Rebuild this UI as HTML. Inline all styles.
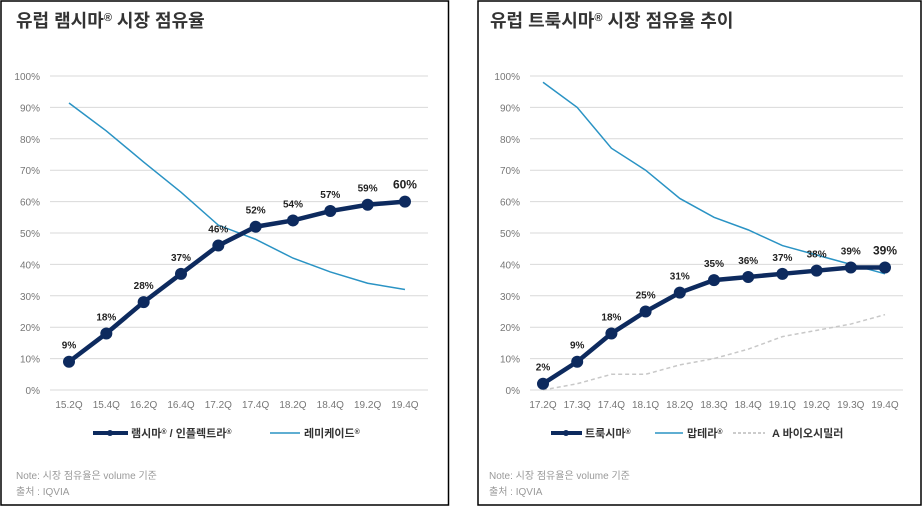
<!DOCTYPE html>
<html><head><meta charset="utf-8"><style>
body{margin:0;background:#fff;width:923px;height:507px;overflow:hidden;font-family:"Liberation Sans","Noto Sans CJK KR",sans-serif}
svg text{font-family:"Liberation Sans","Noto Sans CJK KR",sans-serif}
</style></head><body>
<svg id="s" width="923" height="507">
<rect x="1" y="1" width="447.5" height="504" fill="none" stroke="#000" stroke-width="1.5"/>
<rect x="478" y="1" width="443" height="504" fill="none" stroke="#000" stroke-width="1.5"/>
<text x="16" y="27" font-size="18" font-weight="bold" fill="#333">유럽 램시마<tspan font-size="11" dy="-6">®</tspan><tspan dy="6"> 시장 점유율</tspan></text>
<text x="490" y="27" font-size="18" font-weight="bold" fill="#333">유럽 트룩시마<tspan font-size="11" dy="-6">®</tspan><tspan dy="6"> 시장 점유율 추이</tspan></text>
<g id="L"></g><g id="R"></g>
<g>
<line x1="93" y1="433" x2="128" y2="433" stroke="#0d2a5e" stroke-width="4"/><circle cx="110" cy="433" r="3" fill="#0d2a5e"/>
<text x="131" y="437" font-size="11" font-weight="bold" fill="#333">램시마<tspan font-size="7" dy="-3">®</tspan><tspan dy="3"> / 인플렉트라</tspan><tspan font-size="7" dy="-3">®</tspan></text>
<line x1="270" y1="433" x2="300" y2="433" stroke="#2a93c4" stroke-width="1.5"/>
<text x="304" y="437" font-size="11" font-weight="bold" fill="#333">레미케이드<tspan font-size="7" dy="-3">®</tspan></text></g>
<g>
<line x1="551" y1="433" x2="582" y2="433" stroke="#0d2a5e" stroke-width="4"/><circle cx="566" cy="433" r="3" fill="#0d2a5e"/>
<text x="585" y="437" font-size="11" font-weight="bold" fill="#333">트룩시마<tspan font-size="7" dy="-3">®</tspan></text>
<line x1="655" y1="433" x2="683" y2="433" stroke="#2a93c4" stroke-width="1.5"/>
<text x="687" y="437" font-size="11" font-weight="bold" fill="#333">맙테라<tspan font-size="7" dy="-3">®</tspan></text>
<line x1="733" y1="433" x2="765" y2="433" stroke="#bbb" stroke-width="1.5" stroke-dasharray="3,2"/>
<text x="772" y="437" font-size="11" font-weight="bold" fill="#333">A 바이오시밀러</text></g>
<text x="16" y="479" font-size="10" fill="#999">Note: 시장 점유율은 volume 기준</text>
<text x="16" y="495" font-size="10" fill="#999">출처 : IQVIA</text>
<text x="489" y="479" font-size="10" fill="#999">Note: 시장 점유율은 volume 기준</text>
<text x="489" y="495" font-size="10" fill="#999">출처 : IQVIA</text>
</svg>
<script>
const leftCats=["15.2Q","15.4Q","16.2Q","16.4Q","17.2Q","17.4Q","18.2Q","18.4Q","19.2Q","19.4Q"];
const remsima=[9,18,28,37,46,52,54,57,59,60];
const remicade=[91.4,82.5,72.6,63,52.5,48,42,37.6,34,32];
const rightCats=["17.2Q","17.3Q","17.4Q","18.1Q","18.2Q","18.3Q","18.4Q","19.1Q","19.2Q","19.3Q","19.4Q"];
const truxima=[2,9,18,25,31,35,36,37,38,39,39];
const mabthera=[98,90,77,70,61,55,51,46,43,40,37];
const biosimilar=[0,2,5,5,8,10,13,17,19,21,24];
const yTicks=[0,10,20,30,40,50,60,70,80,90,100];
const NS="http://www.w3.org/2000/svg";
function mk(p,t,a){const e=document.createElementNS(NS,t);for(const k in a)e.setAttribute(k,a[k]);p.appendChild(e);return e;}
function y(v){return 390-v*3.14;}
function draw(g,cats,x0,dx,gx1,gx2,main,other,dashed){
  yTicks.forEach(t=>{
    const l=mk(g,'line',{x1:gx1,x2:gx2,y1:y(t),y2:y(t),stroke:'#d9d9d9','stroke-width':1});
    
    const tx=mk(g,'text',{x:gx1-10,y:y(t)+4,'font-size':10,fill:'#777','text-anchor':'end'});tx.textContent=t+'%';
    
  });
  const X=i=>x0+i*dx;
  cats.forEach((c,i)=>{const tx=mk(g,'text',{x:X(i),y:408,'font-size':10,fill:'#777','text-anchor':'middle'});tx.textContent=c;
    });
  if(dashed){const p=mk(g,'polyline',{points:dashed.map((v,i)=>X(i)+','+y(v)).join(' '),fill:'none',stroke:'#c8c8c8','stroke-width':1.5,'stroke-dasharray':'4,3'});
    }
  const o=mk(g,'polyline',{points:other.map((v,i)=>X(i)+','+y(v)).join(' '),fill:'none',stroke:'#2a93c4','stroke-width':1.5});
  
  const m=mk(g,'polyline',{points:main.map((v,i)=>X(i)+','+y(v)).join(' '),fill:'none',stroke:'#0d2a5e','stroke-width':4.5});
  
  main.forEach((v,i)=>{const c=mk(g,'circle',{cx:X(i),cy:y(v),r:6,fill:'#0d2a5e'});
    
    const last=i==main.length-1;
    const t=mk(g,'text',{x:X(i),y:y(v)-13,'font-size':last?12:10,'font-weight':'bold',fill:'#222','text-anchor':'middle'});t.textContent=Math.round(v)+'%';
    });
}
draw(document.getElementById('L'),leftCats,69,37.33,50,428,remsima,remicade,null);
draw(document.getElementById('R'),rightCats,543,34.2,530,903,truxima,mabthera,biosimilar);
</script>
</body></html>
